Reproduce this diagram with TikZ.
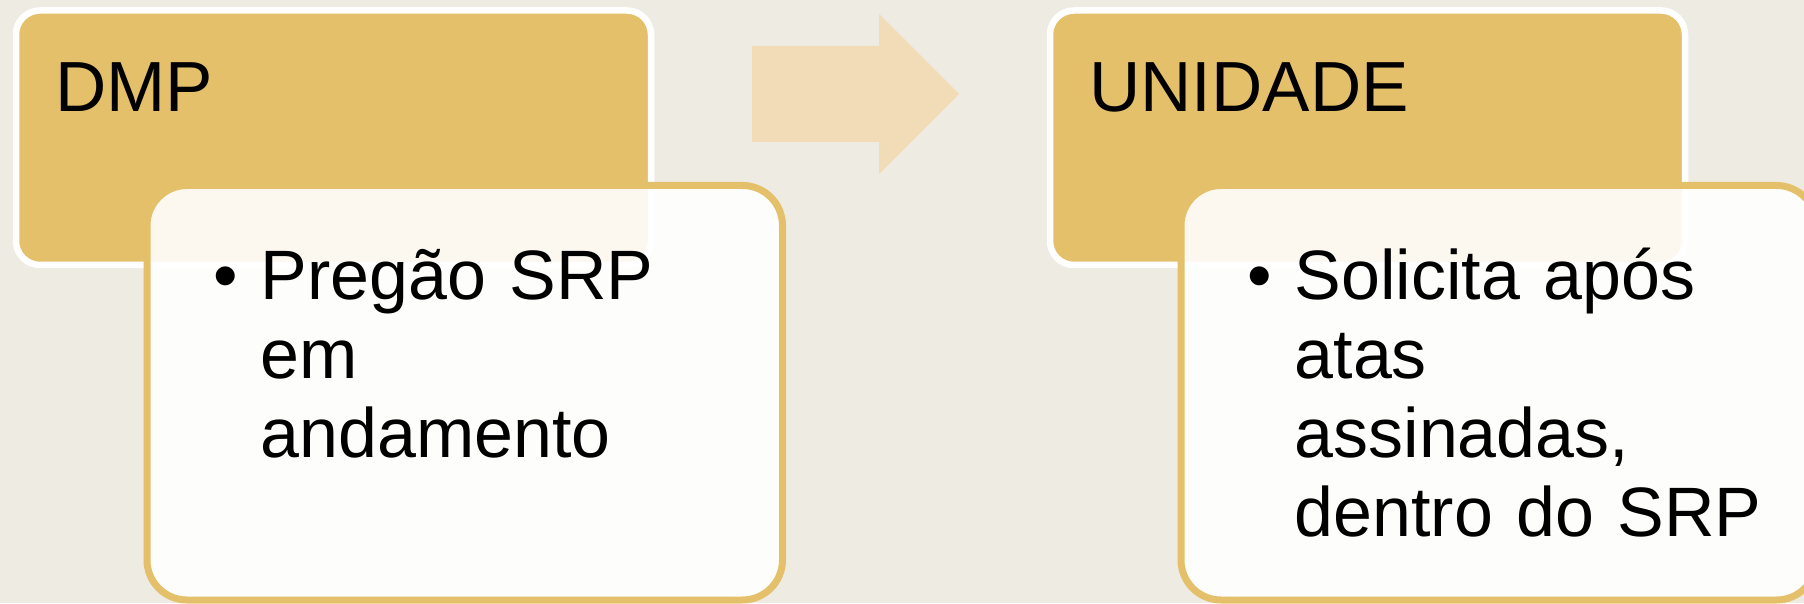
\documentclass[tikz,border=0pt]{standalone}
\usepackage{fontspec}
\setmainfont{Liberation Sans}
\definecolor{pagebg}{HTML}{EEEBE3}
\definecolor{popgold}{HTML}{E4C06B}
\definecolor{arrowtan}{HTML}{F1DCB7}
\newcommand{\itembullet}{\llap{\textbullet\hspace{0.2275cm}}}

\begin{document}
\begin{tikzpicture}[
  hbox/.style={draw=white, fill=popgold, line width=0.065cm, rounded corners=0.24cm, minimum width=6.35cm, minimum height=2.545cm, inner sep=0pt},
  ibox/.style={draw=popgold, fill=white, fill opacity=0.9, line width=0.07cm, rounded corners=0.4cm, minimum width=6.355cm, minimum height=4.145cm, inner sep=0pt},
  htxt/.style={anchor=base west, inner sep=0pt, font=\fontsize{20.2pt}{22.5pt}\selectfont},
  itxt/.style={anchor=base west, inner sep=0pt, text width=5.2cm, align=left, font=\fontsize{19.9pt}{22.5pt}\selectfont}
]
  \fill[pagebg] (0,0) rectangle (18.04,6.03);
  \useasboundingbox (0,0) rectangle (18.04,6.03);
  \clip (0,0) rectangle (18.04,6.03);

  % first step
  \node[hbox] (dmp) at (3.335, 4.6525) {};
  \node[ibox] (dmpitem) at (4.6475, 2.1025) {};
  \node[htxt] (dmptxt) at (0.545, 4.91) {DMP};
  \node[itxt] (dmpitemtxt) at (2.60, 3.04) {\itembullet Pregão SRP\\em\\andamento};

  % block arrow
  \fill[arrowtan] (7.52,5.57) -- (8.79,5.57) -- (8.79,5.89) -- (9.59,5.09) -- (8.79,4.29) -- (8.79,4.61) -- (7.52,4.61) -- cycle;

  % second step
  \node[hbox] (unid) at (13.675, 4.6525) {};
  \node[ibox] (uniditem) at (14.9875, 2.1025) {};
  \node[htxt] (unidtxt) at (10.885, 4.91) {UNIDADE};
  \node[itxt] (uniditemtxt) at (12.94, 3.04) {\itembullet Solicita após\\atas\\assinadas,\\dentro do SRP};
\end{tikzpicture}
\end{document}
